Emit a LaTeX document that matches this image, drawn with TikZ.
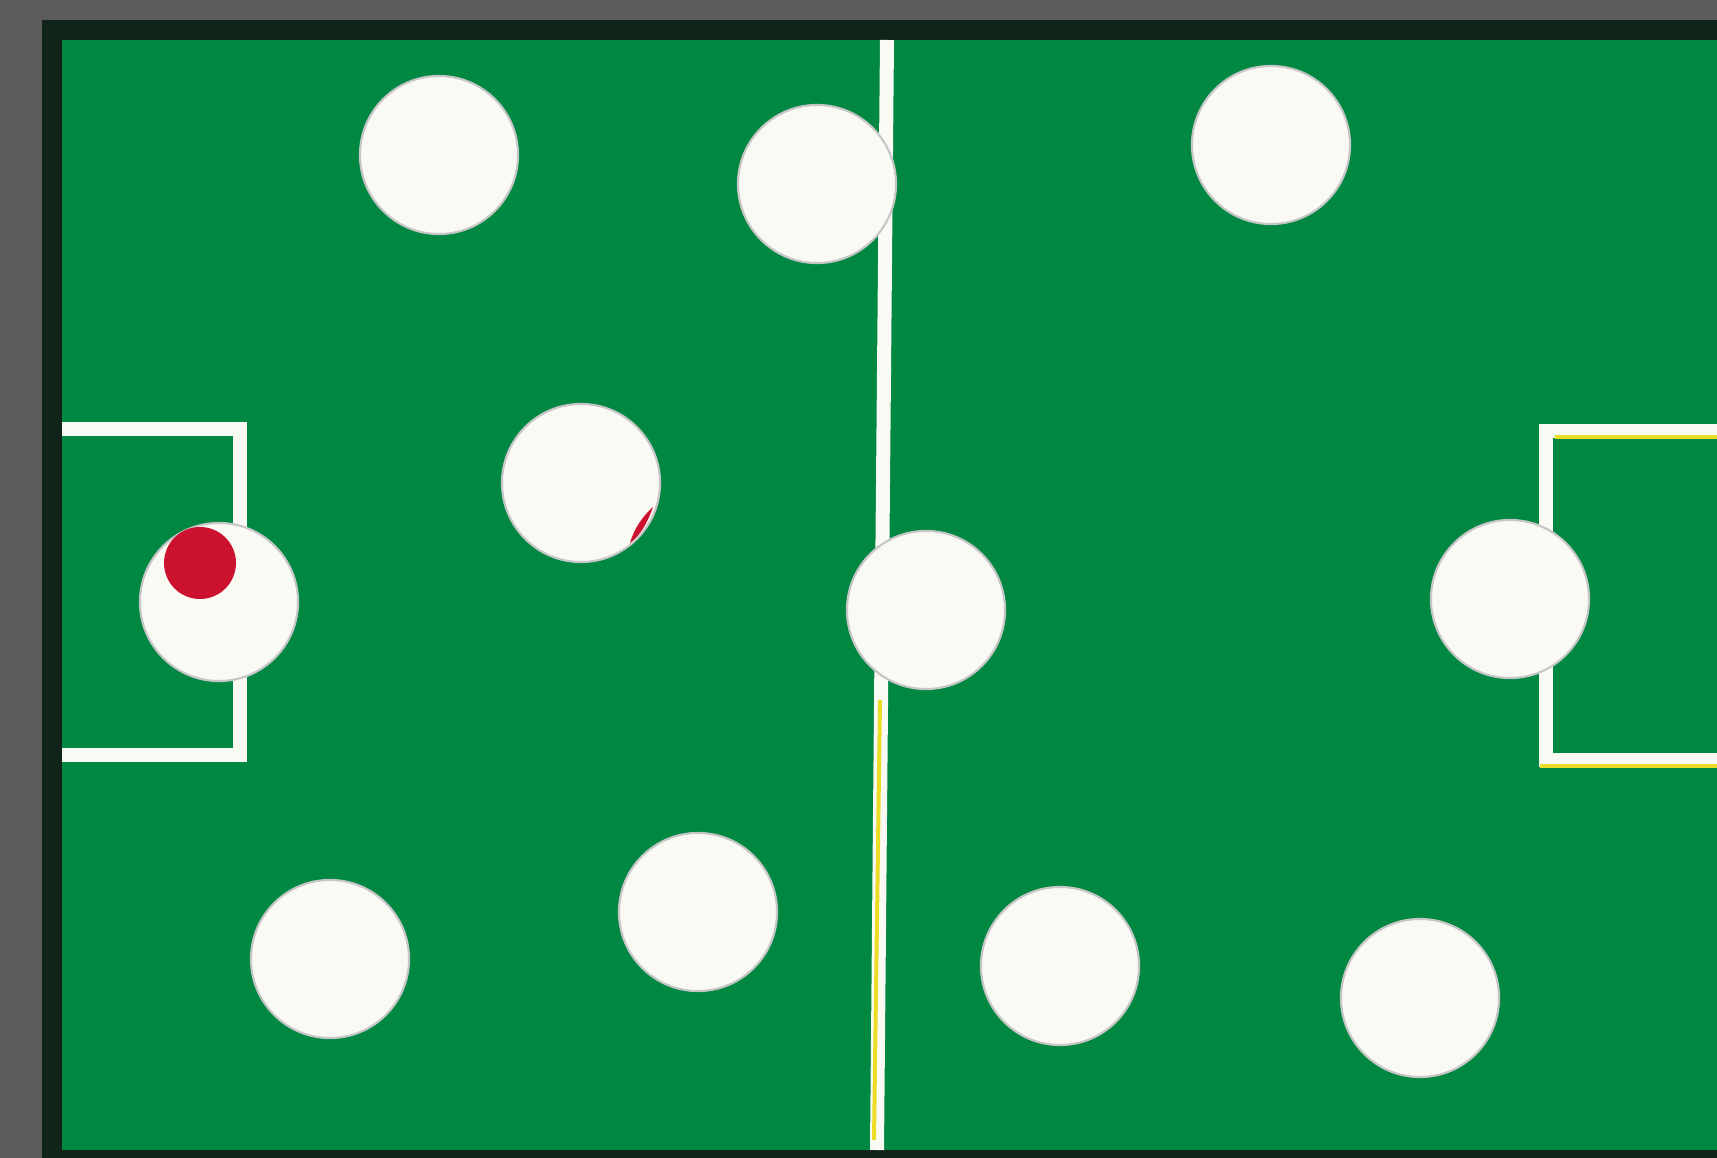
\documentclass[tikz,border=0pt]{standalone}
\definecolor{pitch}{RGB}{0,136,66}
\definecolor{frame}{RGB}{16,36,26}
\definecolor{board}{RGB}{92,92,92}
\definecolor{chalk}{RGB}{250,250,244}
\definecolor{dotred}{RGB}{205,18,48}
\definecolor{tint}{RGB}{235,220,40}
\begin{document}
\begin{tikzpicture}[x=0.01cm,y=-0.01cm,
  disc/.style={circle,fill=chalk,draw=gray!45,line width=0.6pt,minimum size=1.58cm,inner sep=0pt},
  pitchline/.style={draw=chalk,line width=0.14cm},
  tintline/.style={draw=tint,line width=0.04cm}]
\useasboundingbox (0,0) rectangle (1717,1158);
% board and frame
\fill[board] (0,0) rectangle (1717,1158);
\fill[frame] (42,20) rectangle (1717,1158);
\fill[pitch] (62,40) rectangle (1717,1150);
% centre line
\draw[pitchline] (887,40) -- (877,1150);
\draw[tintline] (880,700) -- (874,1140);
% goal boxes
\draw[pitchline] (62,429) -- (240,429) -- (240,755) -- (62,755);
\draw[pitchline] (1717,431) -- (1546,431) -- (1546,760) -- (1717,760);
\draw[tintline] (1555,437) -- (1717,437);
\draw[tintline] (1540,766) -- (1717,766);
% players
\foreach \x/\y [count=\i] in {439/155,817/184,1271/145,581/483,219/602,926/610,1510/599,330/959,698/912,1060/966,1420/998}
  \node[disc] (d\i) at (\x,\y) {};
% red marks
\fill[dotred] (200,563) circle (36);
\fill[dotred] (653,507) .. controls (648,522) and (640,536) .. (630,543)
  .. controls (634,528) and (644,515) .. (653,507) -- cycle;
\end{tikzpicture}
\end{document}
